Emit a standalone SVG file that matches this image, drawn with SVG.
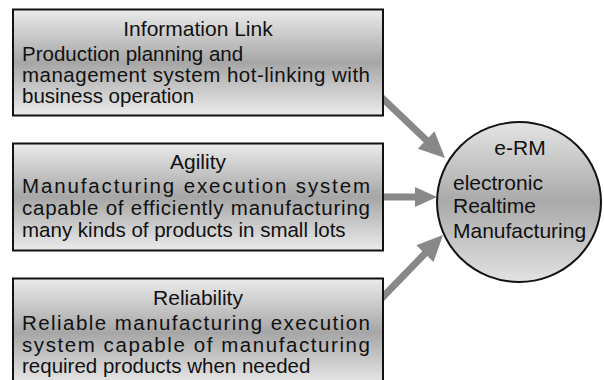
<svg xmlns="http://www.w3.org/2000/svg" width="604" height="380" viewBox="0 0 604 380">
<defs>
<linearGradient id="boxg" x1="0" y1="0" x2="0" y2="1">
<stop offset="0" stop-color="#ebebeb"/>
<stop offset="0.5" stop-color="#a6a6a6"/>
<stop offset="1" stop-color="#ebebeb"/>
</linearGradient>
<linearGradient id="circg" x1="0" y1="0" x2="0" y2="1">
<stop offset="0" stop-color="#e4e4e4"/>
<stop offset="0.5" stop-color="#a9a9a9"/>
<stop offset="1" stop-color="#e2e2e2"/>
</linearGradient>
</defs>
<style>
.box{fill:url(#boxg);stroke:#111;stroke-width:2}
.circ{fill:url(#circg);stroke:#111;stroke-width:2}
.arr{fill:#888;stroke:none}
text{font-family:"Liberation Sans",Arial,sans-serif;fill:#111}
.t{font-size:21px;text-anchor:middle}
.b{font-size:20.5px}
.c{font-size:21px}
</style>
<rect width="604" height="380" fill="#fff"/>
<g id="connectors">
<polygon class="arr" points="380.42,91.47 428.62,137.51 434.49,131.36 445,158 417.91,148.72 423.78,142.57 375.58,96.53"/>
<polygon class="arr" points="380,193.5 415,193.5 415,187 437,197 415,207 415,200.5 380,200.5"/>
<polygon class="arr" points="375.49,299.56 422.39,251.22 416.29,245.3 443,235 433.51,262.02 427.41,256.1 380.51,304.44"/>
</g>
<g id="info">
<rect class="box" x="13" y="9.5" width="370" height="106"/>
<text class="t" x="198" y="36">Information Link</text>
<text class="b" x="22" y="61">Production planning and</text>
<text class="b" x="22" y="82" textLength="348" lengthAdjust="spacing">management system hot-linking with</text>
<text class="b" x="22" y="103">business operation</text>
</g>
<g id="agility">
<rect class="box" x="13" y="143.5" width="370" height="107"/>
<text class="t" x="198" y="169">Agility</text>
<text class="b" x="22" y="193" textLength="348" lengthAdjust="spacing">Manufacturing execution system</text>
<text class="b" x="22" y="215" textLength="348" lengthAdjust="spacing">capable of efficiently manufacturing</text>
<text class="b" x="22" y="237">many kinds of products in small lots</text>
</g>
<g id="reliability">
<rect class="box" x="13" y="278.5" width="370" height="108"/>
<text class="t" x="198" y="305">Reliability</text>
<text class="b" x="22" y="330" textLength="348" lengthAdjust="spacing">Reliable manufacturing execution</text>
<text class="b" x="22" y="352" textLength="348" lengthAdjust="spacing">system capable of manufacturing</text>
<text class="b" x="22" y="373">required products when needed</text>
</g>
<g id="erm">
<ellipse class="circ" cx="519" cy="202" rx="82" ry="80"/>
<text class="c" x="520" y="155" text-anchor="middle">e-RM</text>
<text class="c" x="453" y="190">electronic</text>
<text class="c" x="453" y="213">Realtime</text>
<text class="c" x="453" y="238">Manufacturing</text>
</g>
</svg>
